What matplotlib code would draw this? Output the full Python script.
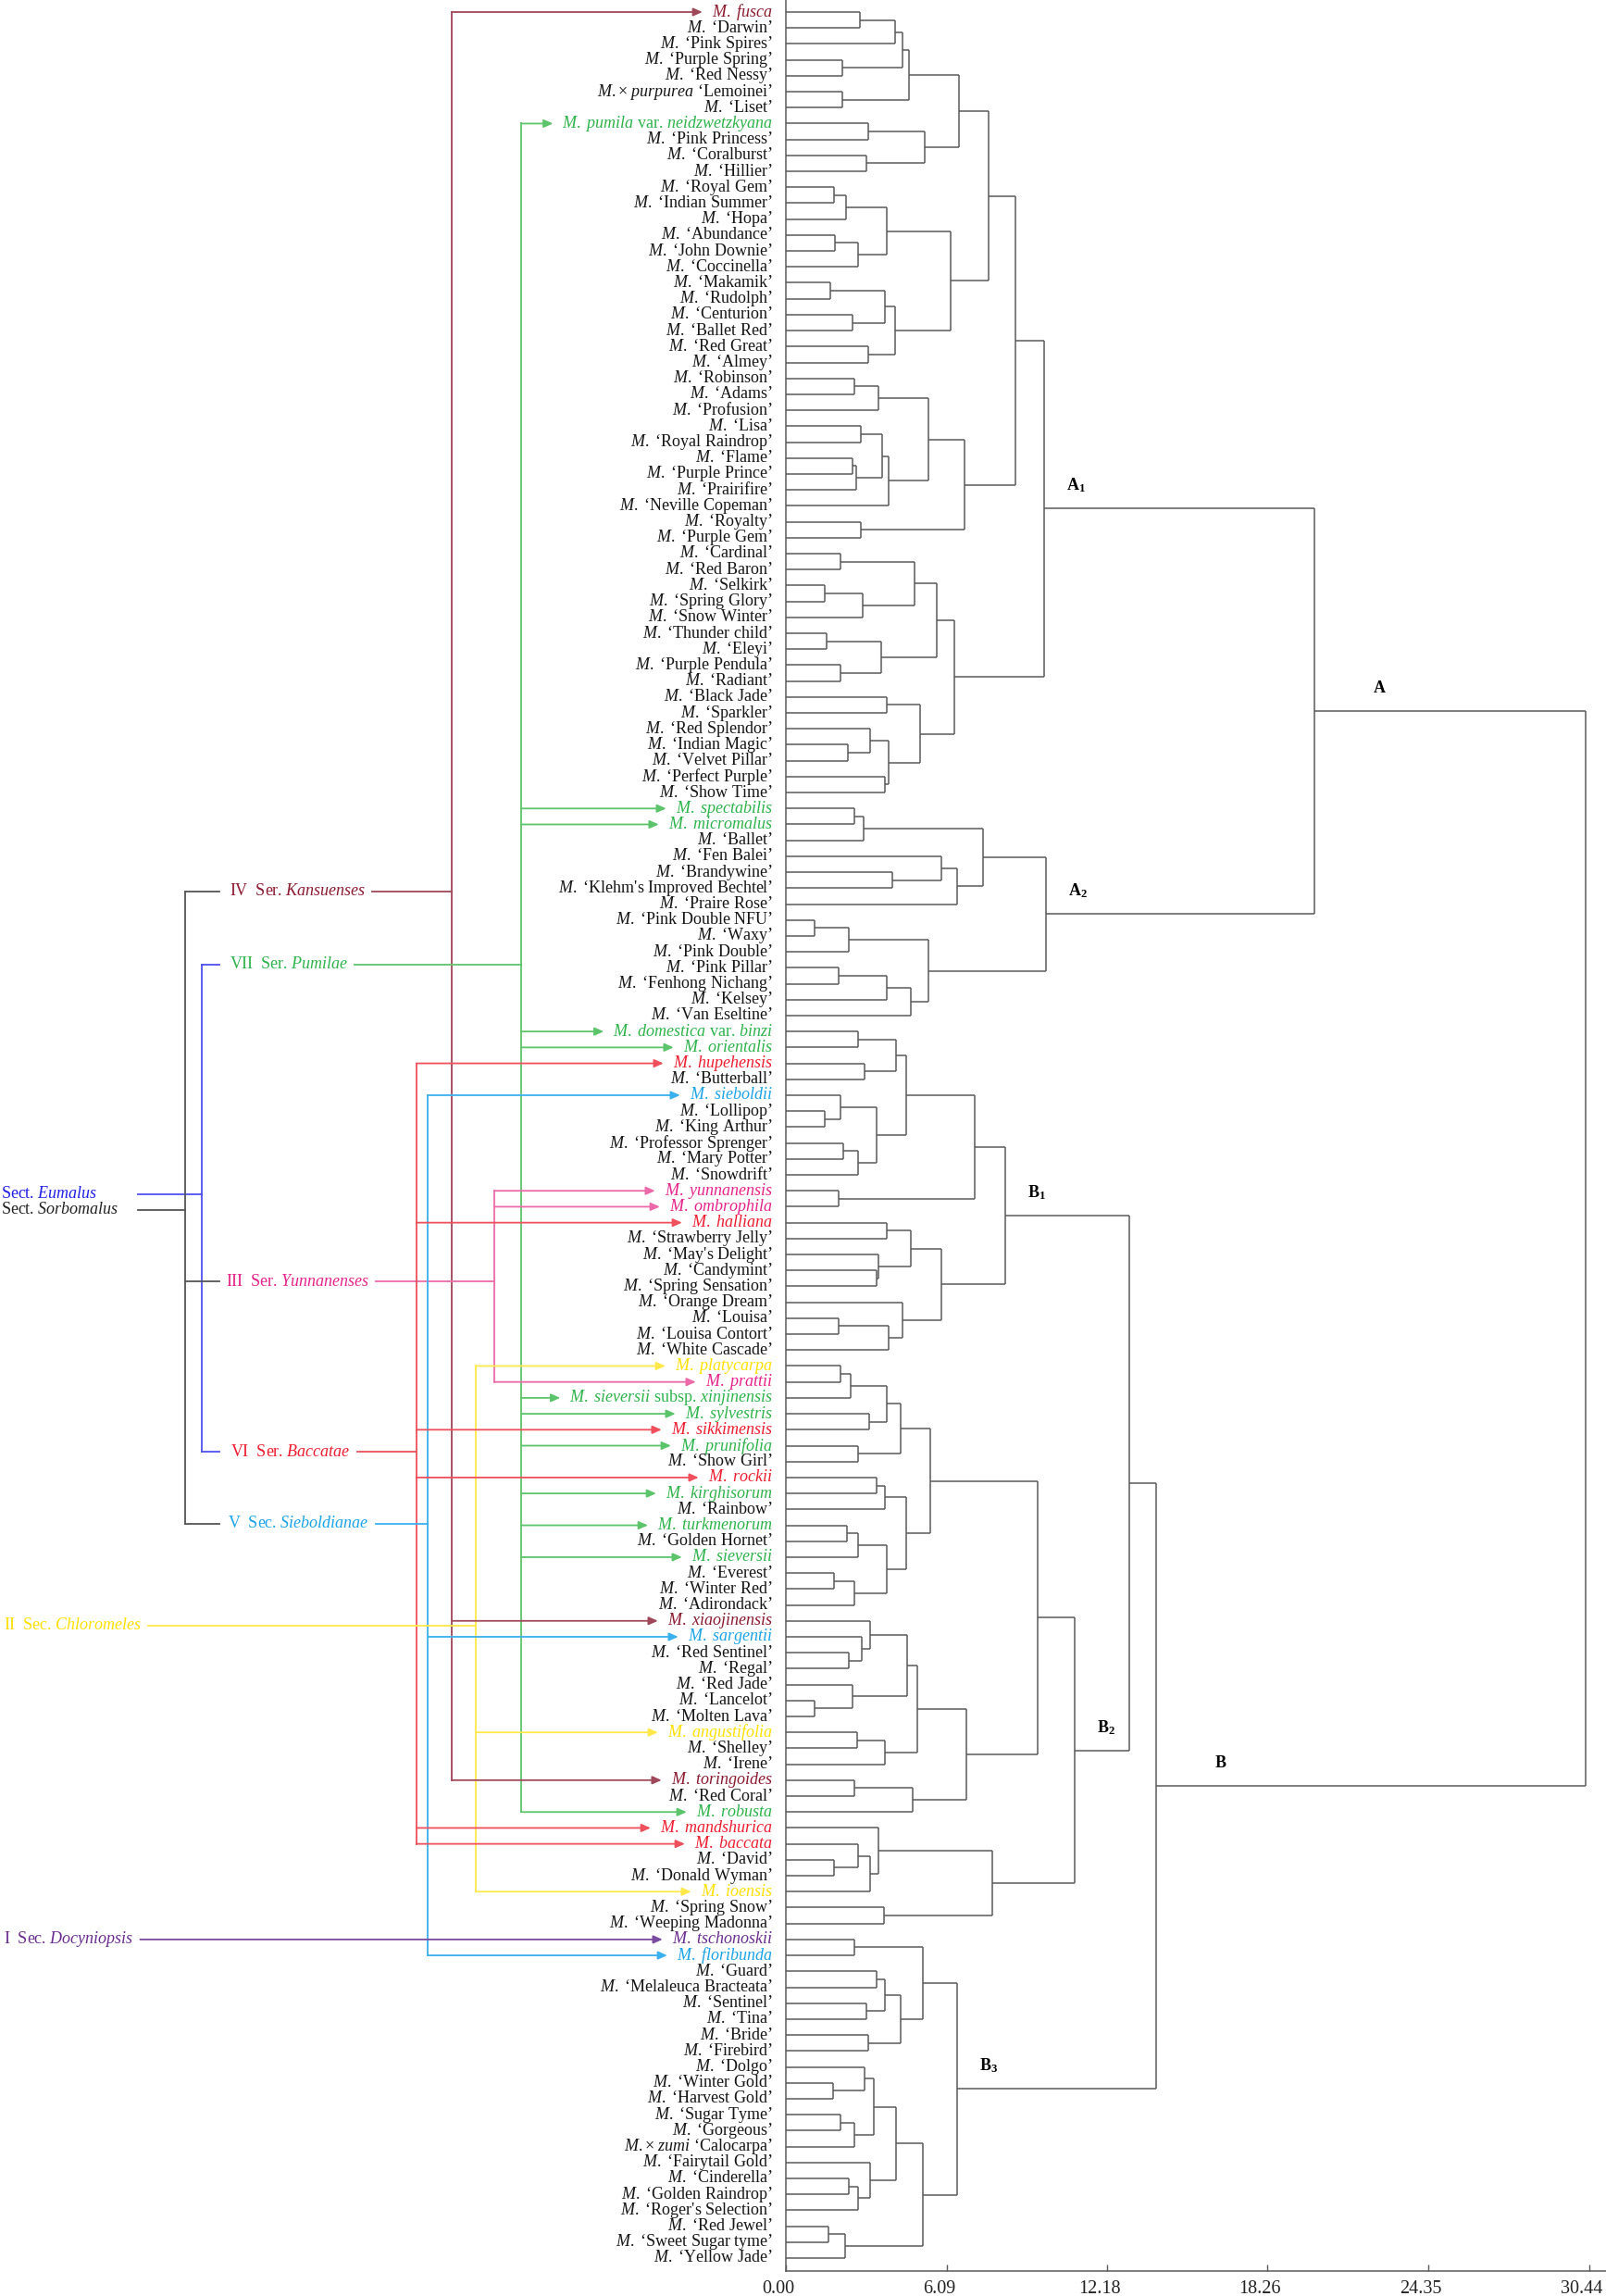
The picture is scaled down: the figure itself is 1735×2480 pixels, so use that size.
import matplotlib.pyplot as plt
import matplotlib.transforms as mtransforms
from matplotlib.collections import LineCollection

plt.rcParams['font.family'] = 'Liberation Serif'
plt.rcParams['mathtext.fontset'] = 'custom'
plt.rcParams['mathtext.rm'] = 'Liberation Serif'
plt.rcParams['mathtext.it'] = 'Liberation Serif:italic'
plt.rcParams['mathtext.bf'] = 'Liberation Serif:bold'

# leaf order, top to bottom
leaves = [
    "M. fusca", "M. ‘Darwin’", "M. ‘Pink Spires’", "M. ‘Purple Spring’", "M. ‘Red Nessy’",
    "M. × purpurea ‘Lemoinei’", "M. ‘Liset’", "M. pumila var. neidzwetzkyana", "M. ‘Pink Princess’",
    "M. ‘Coralburst’", "M. ‘Hillier’", "M. ‘Royal Gem’", "M. ‘Indian Summer’", "M. ‘Hopa’",
    "M. ‘Abundance’", "M. ‘John Downie’", "M. ‘Coccinella’", "M. ‘Makamik’", "M. ‘Rudolph’",
    "M. ‘Centurion’", "M. ‘Ballet Red’", "M. ‘Red Great’", "M. ‘Almey’", "M. ‘Robinson’",
    "M. ‘Adams’", "M. ‘Profusion’", "M. ‘Lisa’", "M. ‘Royal Raindrop’", "M. ‘Flame’",
    "M. ‘Purple Prince’", "M. ‘Prairifire’", "M. ‘Neville Copeman’", "M. ‘Royalty’",
    "M. ‘Purple Gem’", "M. ‘Cardinal’", "M. ‘Red Baron’", "M. ‘Selkirk’", "M. ‘Spring Glory’",
    "M. ‘Snow Winter’", "M. ‘Thunder child’", "M. ‘Eleyi’", "M. ‘Purple Pendula’", "M. ‘Radiant’",
    "M. ‘Black Jade’", "M. ‘Sparkler’", "M. ‘Red Splendor’", "M. ‘Indian Magic’",
    "M. ‘Velvet Pillar’", "M. ‘Perfect Purple’", "M. ‘Show Time’", "M. spectabilis",
    "M. micromalus", "M. ‘Ballet’", "M. ‘Fen Balei’", "M. ‘Brandywine’",
    "M. ‘Klehm's Improved Bechtel’", "M. ‘Praire Rose’", "M. ‘Pink Double NFU’", "M. ‘Waxy’",
    "M. ‘Pink Double’", "M. ‘Pink Pillar’", "M. ‘Fenhong Nichang’", "M. ‘Kelsey’",
    "M. ‘Van Eseltine’", "M. domestica var. binzi", "M. orientalis", "M. hupehensis",
    "M. ‘Butterball’", "M. sieboldii", "M. ‘Lollipop’", "M. ‘King Arthur’",
    "M. ‘Professor Sprenger’", "M. ‘Mary Potter’", "M. ‘Snowdrift’", "M. yunnanensis",
    "M. ombrophila", "M. halliana", "M. ‘Strawberry Jelly’", "M. ‘May's Delight’",
    "M. ‘Candymint’", "M. ‘Spring Sensation’", "M. ‘Orange Dream’", "M. ‘Louisa’",
    "M. ‘Louisa Contort’", "M. ‘White Cascade’", "M. platycarpa", "M. prattii",
    "M. sieversii subsp. xinjinensis", "M. sylvestris", "M. sikkimensis", "M. prunifolia",
    "M. ‘Show Girl’", "M. rockii", "M. kirghisorum", "M. ‘Rainbow’", "M. turkmenorum",
    "M. ‘Golden Hornet’", "M. sieversii", "M. ‘Everest’", "M. ‘Winter Red’", "M. ‘Adirondack’",
    "M. xiaojinensis", "M. sargentii", "M. ‘Red Sentinel’", "M. ‘Regal’", "M. ‘Red Jade’",
    "M. ‘Lancelot’", "M. ‘Molten Lava’", "M. angustifolia", "M. ‘Shelley’", "M. ‘Irene’",
    "M. toringoides", "M. ‘Red Coral’", "M. robusta", "M. mandshurica", "M. baccata",
    "M. ‘David’", "M. ‘Donald Wyman’", "M. ioensis", "M. ‘Spring Snow’", "M. ‘Weeping Madonna’",
    "M. tschonoskii", "M. floribunda", "M. ‘Guard’", "M. ‘Melaleuca Bracteata’", "M. ‘Sentinel’",
    "M. ‘Tina’", "M. ‘Bride’", "M. ‘Firebird’", "M. ‘Dolgo’", "M. ‘Winter Gold’",
    "M. ‘Harvest Gold’", "M. ‘Sugar Tyme’", "M. ‘Gorgeous’", "M. × zumi ‘Calocarpa’",
    "M. ‘Fairytail Gold’", "M. ‘Cinderella’", "M. ‘Golden Raindrop’", "M. ‘Roger's Selection’",
    "M. ‘Red Jewel’", "M. ‘Sweet Sugar tyme’", "M. ‘Yellow Jade’",
]
assert len(leaves) == 142

# merges: (first leaf, last leaf, distance), leaves numbered from 1
merges = [
    (1, 2, 2.81), (1, 3, 4.13), (4, 5, 2.13), (1, 5, 4.41), (6, 7, 2.15), (1, 7, 4.66),
    (8, 9, 3.13), (10, 11, 3.06), (8, 11, 5.25), (1, 11, 6.56),
    (12, 13, 1.84), (12, 14, 2.29), (15, 16, 1.85), (15, 17, 2.75), (12, 17, 3.81),
    (18, 19, 1.69), (20, 21, 2.53), (18, 21, 3.75), (22, 23, 3.13), (18, 23, 4.13),
    (12, 23, 6.25), (1, 23, 7.69),
    (24, 25, 2.59), (24, 26, 3.50), (27, 28, 2.84), (29, 30, 2.53), (29, 31, 2.66),
    (27, 31, 3.65), (27, 32, 3.88), (24, 32, 5.40), (33, 34, 2.84), (24, 34, 6.78),
    (1, 34, 8.70),
    (35, 36, 2.06), (37, 38, 1.48), (37, 39, 2.91), (35, 39, 4.88), (40, 41, 1.53),
    (42, 43, 2.06), (40, 43, 3.60), (35, 43, 5.71), (44, 45, 3.81), (47, 48, 2.35),
    (46, 48, 3.21), (49, 50, 3.75), (46, 50, 3.91), (44, 50, 5.10), (35, 50, 6.40),
    (1, 50, 9.79),
    (51, 52, 2.60), (51, 53, 2.96), (55, 56, 4.04), (54, 56, 5.88), (54, 57, 6.48),
    (51, 57, 7.46), (58, 59, 1.09), (58, 60, 2.38), (61, 62, 2.00), (61, 63, 3.81),
    (61, 64, 4.73), (58, 64, 5.41), (51, 64, 9.86), (1, 64, 20.05),
    (65, 66, 2.75), (67, 68, 2.98), (65, 68, 4.19), (70, 71, 1.46), (69, 71, 2.06),
    (72, 73, 2.16), (72, 74, 2.75), (69, 74, 3.44), (65, 74, 4.56), (75, 76, 2.00),
    (65, 76, 7.16), (77, 78, 3.81), (80, 81, 3.44), (79, 81, 3.50), (77, 81, 4.73),
    (83, 84, 2.00), (83, 85, 3.90), (82, 85, 4.41), (77, 85, 5.88), (65, 85, 8.31),
    (86, 87, 2.06), (86, 88, 2.44), (89, 90, 3.15), (86, 90, 3.81), (91, 92, 2.75),
    (86, 92, 4.35), (93, 94, 3.44), (93, 95, 3.75), (96, 97, 2.31), (96, 98, 2.75),
    (99, 100, 1.84), (99, 101, 2.60), (96, 101, 3.81), (93, 101, 4.56), (86, 101, 5.48),
    (104, 105, 2.38), (103, 105, 2.88), (102, 105, 3.21), (107, 108, 1.09),
    (106, 108, 2.53), (102, 108, 4.59), (109, 110, 2.69), (109, 111, 3.75),
    (102, 111, 4.98), (112, 113, 2.60), (112, 114, 4.81), (102, 114, 6.85),
    (86, 114, 9.55), (117, 118, 1.84), (116, 118, 2.75), (116, 119, 3.21),
    (115, 119, 3.50), (120, 121, 3.73), (115, 121, 7.84), (86, 121, 10.93),
    (65, 121, 13.03),
    (122, 123, 2.59), (124, 125, 3.44), (126, 127, 3.06), (124, 127, 3.75),
    (128, 129, 3.13), (124, 129, 4.35), (122, 129, 5.19), (131, 132, 1.78),
    (130, 132, 2.98), (133, 134, 2.06), (133, 135, 2.60), (130, 135, 3.35),
    (137, 138, 2.38), (137, 139, 2.75), (136, 139, 3.21), (130, 139, 4.19),
    (140, 141, 1.63), (140, 142, 2.23), (130, 142, 5.19), (122, 142, 6.48),
    (65, 142, 14.04), (1, 142, 30.30),
]

ticks = [0.00, 6.09, 12.18, 18.26, 24.35, 30.44]

# cluster names (letter, subscript) -> the node (leaf range) they mark
cluster_names = [("A", "1"), ("A", "2"), ("A", ""), ("B", "1"), ("B", "2"), ("B", ""), ("B", "3")]
cluster_nodes = [(1, 50), (51, 64), (1, 64), (65, 85), (86, 121), (65, 142), (122, 142)]

# taxonomic groups of the wild species
group_num = ["IV", "VII", "III", "VI", "V", "II", "I"]
group_rank = ["Ser.", "Ser.", "Ser.", "Ser.", "Sec.", "Sec.", "Sec."]
group_name = ["Kansuenses", "Pumilae", "Yunnanenses", "Baccatae", "Sieboldianae", "Chloromeles", "Docyniopsis"]
group_members = [
    ["M. fusca", "M. xiaojinensis", "M. toringoides"],
    ["M. pumila var. neidzwetzkyana", "M. spectabilis", "M. micromalus", "M. domestica var. binzi",
     "M. orientalis", "M. sieversii subsp. xinjinensis", "M. sylvestris", "M. prunifolia",
     "M. kirghisorum", "M. turkmenorum", "M. sieversii", "M. robusta"],
    ["M. yunnanensis", "M. ombrophila", "M. prattii"],
    ["M. hupehensis", "M. halliana", "M. sikkimensis", "M. rockii", "M. mandshurica", "M. baccata"],
    ["M. sieboldii", "M. sargentii", "M. floribunda"],
    ["M. platycarpa", "M. angustifolia", "M. ioensis"],
    ["M. tschonoskii"],
]
section_name = ["Eumalus", "Sorbomalus"]
section_groups = [["Pumilae", "Baccatae"], ["Kansuenses", "Yunnanenses", "Sieboldianae"]]

# styles / layout
text_col = ["#8b1a2e", "#2db34a", "#e6228a", "#ee1c2e", "#1aa3e8", "#ffe000", "#6a2c91"]
line_col = ["#a0475a", "#5cc46a", "#ec6aaa", "#f0505c", "#3bb0ee", "#ffe84a", "#7a4a9e"]
trunk_x = [488, 563, 534, 450, 462, 514, None]
glabel_x = [248, 248, 244, 249, 246, 4, 4]
glabel_y = [55.2, 59.8, 79.7, 90.4, 94.9, 101.3, None]
sect_text_col = ["#1e1ee6", "#222222"]
sect_line_col = ["#5050f0", "#555555"]
sect_bracket_x = [218, 200]
sect_y = [74.2, 75.2]
tree_col = "#5a5a5a"
FS = 13


def fmt(label):
    head, quote = label, ""
    if "‘" in label:
        i = label.index("‘")
        head, quote = label[:i].strip(), " " + label[i:]
    out = ""
    for tok in head.split():
        if tok == "×":
            out += "×"
        elif tok in ("var.", "subsp."):
            out += " " + tok
        else:
            out += (" " if out else "") + r"$\mathit{" + tok + "}$"
    return out + quote


# build dendrogram coordinates
n = len(leaves)
pos = {(i, i): (i - 1, 0.0) for i in range(1, n + 1)}
done = {}
segs = []
for s, e, h in sorted(merges, key=lambda m: m[1] - m[0]):
    kids = []
    p = s
    while p <= e:
        ends = [b for b in done.get(p, []) if b <= e]
        b = max(ends) if ends else p
        kids.append((p, b))
        p = b + 1
    ys = [pos[k][0] for k in kids]
    for k in kids:
        segs.append([(pos[k][1], pos[k][0]), (h, pos[k][0])])
    segs.append([(h, min(ys)), (h, max(ys))])
    pos[(s, e)] = ((min(ys) + max(ys)) / 2, h)
    done.setdefault(s, []).append(e)

W, H = 1735, 2480
x0_px, ax_bot_px = 849, 2453
px_per_unit = 28.5
row = 17.2

fig = plt.figure(figsize=(W / 100, H / 100), dpi=100)
ax = fig.add_axes([x0_px / W, 1 - ax_bot_px / H, 1 - x0_px / W, ax_bot_px / H])
ax.add_collection(LineCollection(segs, colors=tree_col, linewidths=1.1))
ax.set_xlim(0, (W - x0_px) / px_per_unit)
ax.set_ylim(n - 1 + (ax_bot_px - 2439) / row, -13 / row)
ax.set_xticks(ticks)
ax.set_xticklabels([f"{t:.2f}" for t in ticks])
ax.set_yticks([])
ax.tick_params(axis='x', direction='in', length=5, width=1, color=tree_col,
               labelcolor="#222222", labelsize=14.5, pad=7)
shift = mtransforms.ScaledTranslation(-8 / 100, 0, fig.dpi_scale_trans)
for lab in ax.get_xticklabels():
    lab.set_transform(lab.get_transform() + shift)
for side in ("top", "right"):
    ax.spines[side].set_visible(False)
for side in ("left", "bottom"):
    ax.spines[side].set_color(tree_col)
    ax.spines[side].set_linewidth(1.1)

for (letter, sub), node in zip(cluster_names, cluster_nodes):
    y, h = pos[node]
    dx = 0.85 if sub else 2.2
    s = r"$\mathbf{" + letter + "}" + (r"_{\mathbf{" + sub + "}}" if sub else "") + "$"
    ax.text(h + dx, y - 1.45, s, fontsize=FS, ha="left", va="center")

# left panel in pixel units, sharing the leaf rows
axl = fig.add_axes([0, 1 - ax_bot_px / H, x0_px / W, ax_bot_px / H], sharey=ax)
axl.set_xlim(0, x0_px)
axl.axis("off")

leaf_col = {}
for gi, mem in enumerate(group_members):
    for m in mem:
        leaf_col[m] = text_col[gi]

leaf_txt = []
for i, lab in enumerate(leaves):
    leaf_txt.append(axl.text(835, i, fmt(lab), fontsize=FS, ha="right", va="center",
                             color=leaf_col.get(lab, "#151515")))

g_txt = []
for gi in range(len(group_name)):
    y = glabel_y[gi]
    if y is None:
        y = leaves.index(group_members[gi][0])
    s = f"{group_num[gi]}  {group_rank[gi]} " + r"$\mathit{" + group_name[gi] + "}$"
    g_txt.append(axl.text(glabel_x[gi], y, s, fontsize=FS, ha="left", va="center", color=text_col[gi]))

for si in range(len(section_name)):
    axl.text(1, sect_y[si], "Sect. " + r"$\mathit{" + section_name[si] + "}$", fontsize=FS,
             ha="left", va="center", color=sect_text_col[si])

fig.canvas.draw()
rend = fig.canvas.get_renderer()
inv = axl.transData.inverted()


def left_of(t):
    return inv.transform((t.get_window_extent(rend).x0, 0))[0]


def right_of(t):
    return inv.transform((t.get_window_extent(rend).x1, 0))[0]


def arrow(x_from, x_to, y, c):
    axl.annotate("", xy=(x_to, y), xytext=(x_from, y),
                 arrowprops=dict(arrowstyle="-|>,head_length=0.9,head_width=0.4", color=c,
                                 lw=1.3, shrinkA=0, shrinkB=0, mutation_scale=6.5))


for gi in range(len(group_name)):
    idx = [leaves.index(m) for m in group_members[gi]]
    c = line_col[gi]
    if trunk_x[gi] is None:
        i = idx[0]
        arrow(right_of(g_txt[gi]) + 7, left_of(leaf_txt[i]) - 10, i, c)
        continue
    tx = trunk_x[gi]
    gy = glabel_y[gi]
    ys = idx + [gy]
    axl.plot([tx, tx], [min(ys), max(ys)], color=c, lw=1.3)
    axl.plot([right_of(g_txt[gi]) + 7, tx], [gy, gy], color=c, lw=1.3)
    for i in idx:
        arrow(tx, left_of(leaf_txt[i]) - 10, i, c)

# section brackets
for si in range(len(section_name)):
    bx = sect_bracket_x[si]
    gys = [glabel_y[group_name.index(g)] for g in section_groups[si]]
    c = sect_line_col[si]
    axl.plot([bx, bx], [min(gys), max(gys)], color=c, lw=1.3)
    for gy in gys:
        axl.plot([bx, 237], [gy, gy], color=c, lw=1.3)
    axl.plot([149, bx], [sect_y[si], sect_y[si]], color=c, lw=1.3)

fig.savefig("out.png", dpi=100)
